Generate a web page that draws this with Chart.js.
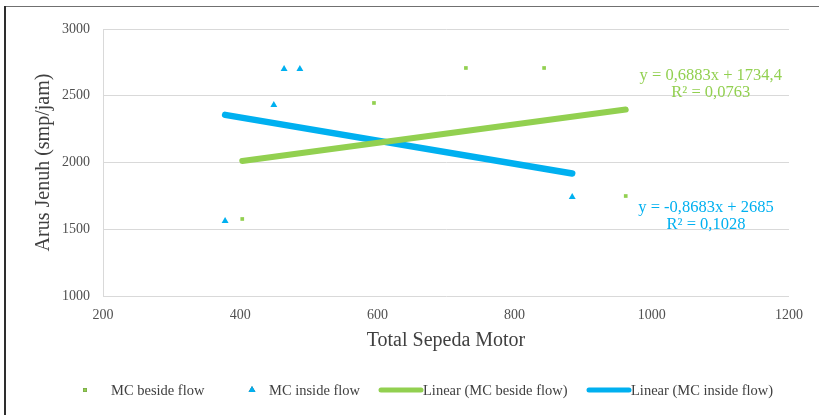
<!DOCTYPE html>
<html>
<head>
<meta charset="utf-8">
<script src="https://cdn.jsdelivr.net/npm/chart.js@4.4.1/dist/chart.umd.min.js"></script>
<style>
  html, body { margin: 0; padding: 0; background: #fff; }
  #wrap { position: relative; width: 819px; height: 415px; }
</style>
</head>
<body>
<div id="wrap"><canvas id="c" width="819" height="415"></canvas></div>
<script>
// Motorcycle count vs. saturation flow, two lane configurations
const besideX = [403, 595, 729, 843, 962];
const besideY = [1577, 2446, 2708, 2708, 1749];
const insideX = [378, 449, 464, 487, 884];
const insideY = [1562, 2431, 2700, 2700, 1742];
const seriesNames = ['MC beside flow', 'MC inside flow'];

// Least-squares trendlines as stated in the chart
const trendSlope = [0.6883, -0.8683];
const trendIntercept = [1734.4, 2685];
const trendR2 = [0.0763, 0.1028];

const xTicks = [200, 400, 600, 800, 1000, 1200];
const yTicks = [1000, 1500, 2000, 2500, 3000];

const GREEN = '#92D050';
const BLUE = '#00B0F0';
const SERIF = "'Liberation Serif', 'Times New Roman', serif";

const toPoints = (xs, ys) => xs.map((x, i) => ({ x: x, y: ys[i] }));
const trendPoints = (xs, k) => {
  const lo = Math.min(...xs), hi = Math.max(...xs);
  return [lo, hi].map(x => ({ x: x, y: trendSlope[k] * x + trendIntercept[k] }));
};
const fmt = v => String(v).replace('.', ',');

Chart.defaults.font.family = SERIF;

// White page with the dark frame on the left and top edges
const framePlugin = {
  id: 'frame',
  beforeDraw(chart) {
    const ctx = chart.ctx;
    ctx.save();
    ctx.fillStyle = '#fff';
    ctx.fillRect(0, 0, chart.width, chart.height);
    ctx.strokeStyle = '#707070';
    ctx.lineWidth = 1.2;
    ctx.beginPath();
    ctx.moveTo(4, 6.5);
    ctx.lineTo(chart.width, 6.5);
    ctx.stroke();
    ctx.strokeStyle = '#2e2e2e';
    ctx.lineWidth = 2;
    ctx.beginPath();
    ctx.moveTo(5, 6);
    ctx.lineTo(5, chart.height);
    ctx.stroke();
    ctx.restore();
  }
};

// Trendline equations next to each fitted line
const equationPlugin = {
  id: 'equations',
  afterDatasetsDraw(chart, args, opts) {
    const ctx = chart.ctx;
    const xs = chart.scales.x, ys = chart.scales.y;
    ctx.save();
    ctx.font = opts.fontSize + 'px ' + SERIF;
    ctx.textAlign = 'center';
    ctx.textBaseline = 'middle';
    opts.anchors.forEach((a, k) => {
      const px = xs.getPixelForValue(a.x);
      const py = ys.getPixelForValue(a.y);
      ctx.fillStyle = opts.colors[k];
      ctx.fillText('y = ' + fmt(trendSlope[k]) + 'x + ' + fmt(trendIntercept[k]), px, py);
      ctx.fillText('R\u00B2 = ' + fmt(trendR2[k]), px, py + opts.lineGap);
    });
    ctx.restore();
  }
};

// Legend row under the axis title
const legendRowPlugin = {
  id: 'legendRow',
  afterDraw(chart, args, opts) {
    const ctx = chart.ctx;
    ctx.save();
    ctx.font = opts.fontSize + 'px ' + SERIF;
    ctx.textBaseline = 'middle';
    ctx.textAlign = 'left';
    const y = opts.y;
    chart.data.datasets.forEach((ds, i) => {
      const slot = opts.slots[i];
      if (ds.showLine) {
        ctx.strokeStyle = ds.borderColor;
        ctx.lineWidth = opts.lineWidth;
        ctx.lineCap = 'round';
        ctx.beginPath();
        ctx.moveTo(slot.x + 2, y);
        ctx.lineTo(slot.x + opts.lineLength - 2, y);
        ctx.stroke();
      } else {
        Chart.helpers.drawPoint(ctx, {
          pointStyle: ds.pointStyle,
          radius: ds.pointRadius,
          borderWidth: 0,
          rotation: 0
        }, slot.x + 8, y);
        ctx.fillStyle = ds.backgroundColor;
        ctx.fill();
      }
      ctx.fillStyle = opts.color;
      ctx.fillText(ds.label, slot.x + slot.textDx, y + 1);
    });
    ctx.restore();
  }
};

const plainTick = v => String(v);

new Chart(document.getElementById('c'), {
  type: 'scatter',
  data: {
    datasets: [
      {
        label: seriesNames[0],
        data: toPoints(besideX, besideY),
        pointStyle: 'rect',
        pointRadius: 2.6,
        pointHoverRadius: 2.6,
        borderWidth: 0,
        backgroundColor: GREEN,
        borderColor: GREEN
      },
      {
        label: seriesNames[1],
        data: toPoints(insideX, insideY),
        pointStyle: 'triangle',
        pointRadius: 4,
        pointHoverRadius: 4,
        borderWidth: 0,
        backgroundColor: BLUE,
        borderColor: BLUE
      },
      {
        label: 'Linear (' + seriesNames[0] + ')',
        data: trendPoints(besideX, 0),
        showLine: true,
        borderColor: GREEN,
        backgroundColor: GREEN,
        borderWidth: 6,
        borderCapStyle: 'round',
        pointRadius: 0,
        pointHoverRadius: 0
      },
      {
        label: 'Linear (' + seriesNames[1] + ')',
        data: trendPoints(insideX, 1),
        showLine: true,
        borderColor: BLUE,
        backgroundColor: BLUE,
        borderWidth: 6.5,
        borderCapStyle: 'round',
        pointRadius: 0,
        pointHoverRadius: 0
      }
    ]
  },
  options: {
    responsive: false,
    animation: false,
    events: [],
    layout: { padding: { top: 29, right: 30, bottom: 0, left: 0 } },
    plugins: {
      legend: { display: false },
      tooltip: { enabled: false },
      equations: {
        anchors: [{ x: 1086, y: 2648 }, { x: 1079, y: 1659 }],
        colors: [GREEN, BLUE],
        fontSize: 16.5,
        lineGap: 17
      },
      legendRow: {
        y: 390,
        fontSize: 14.5,
        color: '#404040',
        lineWidth: 5,
        lineLength: 44,
        slots: [
          { x: 77, textDx: 34 },
          { x: 244, textDx: 25 },
          { x: 379, textDx: 44 },
          { x: 587, textDx: 44 }
        ]
      }
    },
    scales: {
      x: {
        type: 'linear',
        min: xTicks[0],
        max: xTicks[xTicks.length - 1],
        afterBuildTicks: s => { s.ticks = xTicks.map(v => ({ value: v })); },
        afterFit: s => { s.height = 119; },
        grid: { display: false },
        border: { display: false },
        ticks: { color: '#505050', font: { size: 14 }, padding: 3, maxRotation: 0, callback: plainTick },
        title: {
          display: true,
          text: 'Total Sepeda Motor',
          color: '#404040',
          font: { size: 20 },
          padding: { top: 0, bottom: 62 }
        }
      },
      y: {
        type: 'linear',
        min: yTicks[0],
        max: yTicks[yTicks.length - 1],
        afterBuildTicks: s => { s.ticks = yTicks.map(v => ({ value: v })); },
        afterFit: s => { s.width = 103; },
        grid: { color: '#d9d9d9', lineWidth: 1, drawTicks: false },
        border: { display: true, color: '#d9d9d9', width: 1 },
        ticks: { color: '#505050', font: { size: 14 }, padding: 13, callback: plainTick },
        title: {
          display: true,
          text: 'Arus Jenuh (smp/jam)',
          color: '#404040',
          font: { size: 20 },
          padding: { top: 32, bottom: 0 }
        }
      }
    }
  },
  plugins: [framePlugin, equationPlugin, legendRowPlugin]
});
</script>
</body>
</html>
